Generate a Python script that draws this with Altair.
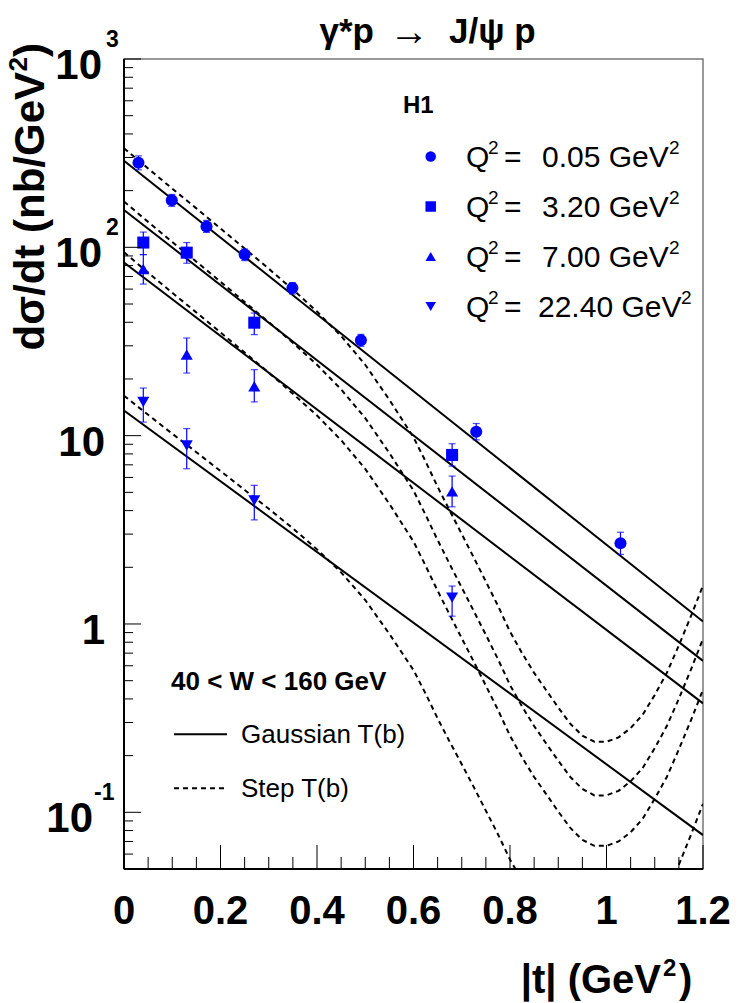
import altair as alt
import pandas as pd

FONT = "Liberation Sans"
BLUE = "#0000ff"
W, H = 579, 810

# ---------------- data ----------------
q2_values = [0.05, 3.20, 7.00, 22.40]
series = ["c", "s", "u", "d"]
shapes = ["circle", "square", "triangle-up", "triangle-down"]

circ_t = [0.030, 0.099, 0.171, 0.250, 0.349, 0.491, 0.730, 1.029]
circ_v = [281, 178, 129, 91.5, 60.8, 32.1, 10.5, 2.68]
circ_hi = [306, 191, 139, 98, 65, 34.5, 11.6, 3.07]
circ_lo = [258, 165, 120, 85, 56.5, 29.8, 9.5, 2.34]

sq_t = [0.04, 0.13, 0.27, 0.68]
sq_v = [106, 93.7, 39.8, 7.9]
sq_hi = [120.5, 106, 44.8, 9.06]
sq_lo = [91.5, 82.3, 34.4, 6.89]

tri_t = [0.04, 0.13, 0.27, 0.68]
tri_v = [76.7, 27.0, 18.3, 5.06]
tri_hi = [91.5, 33.0, 22.4, 6.10]
tri_lo = [63.8, 21.5, 15.1, 4.19]

inv_t = [0.04, 0.13, 0.27, 0.68]
inv_v = [15.1, 8.87, 4.53, 1.38]
inv_hi = [17.9, 10.9, 5.45, 1.59]
inv_lo = [11.8, 6.67, 3.57, 1.10]

# Gaussian T(b): straight lines in log scale (end points)
sol_t = [0.0, 1.2]
sol_1 = [288, 1.03]
sol_2 = [158, 0.637]
sol_3 = [83, 0.379]
sol_4 = [13.6, 0.0757]

# Step T(b) curves
dash_t = [0, 0.05, 0.1, 0.15, 0.2, 0.25, 0.3, 0.35, 0.4, 0.45, 0.5, 0.55, 0.6,
          0.625, 0.65, 0.675, 0.7, 0.725, 0.75, 0.775, 0.8, 0.825, 0.85, 0.875,
          0.9, 0.925, 0.95, 0.975, 1.0, 1.025, 1.05, 1.075, 1.1, 1.125, 1.15,
          1.175, 1.2]
dash_1 = [336, 262, 205, 161, 126, 98.5, 77, 59.7, 45.6, 33.8, 23.8, 15.5, 9.8,
          7.3, 5.35, 4.0, 3.0, 2.25, 1.68, 1.25, 0.91, 0.70, 0.55, 0.445,
          0.36, 0.295, 0.255, 0.237, 0.237, 0.25, 0.28, 0.33, 0.42, 0.55, 0.77,
          1.10, 1.60]
dash_2 = [175, 136.5, 106.8, 83.9, 65.6, 51.3, 40.1, 31.1, 23.8, 17.6, 12.4, 8.08, 5.11,
          3.80, 2.79, 2.08, 1.56, 1.17, 0.875, 0.651, 0.474, 0.365, 0.287, 0.232,
          0.188, 0.154, 0.133, 0.123, 0.123, 0.130, 0.146, 0.172, 0.219, 0.287, 0.401,
          0.573, 0.834]
dash_3 = [94.1, 73.4, 57.4, 45.1, 35.3, 27.6, 21.6, 16.7, 12.8, 9.46, 6.66, 4.34, 2.74,
          2.04, 1.50, 1.12, 0.84, 0.63, 0.47, 0.35, 0.255, 0.196, 0.154, 0.125,
          0.101, 0.0826, 0.0714, 0.0664, 0.0664, 0.070, 0.0784, 0.0924, 0.118, 0.154, 0.216,
          0.308, 0.448]
dash_4 = [16.3, 12.9, 10.24, 8.17, 6.49, 5.15, 4.09, 3.22, 2.49, 1.88, 1.34, 0.886, 0.569,
          0.427, 0.315, 0.237, 0.180, 0.136, 0.102, 0.0765, 0.0561, 0.0435, 0.0344, 0.0281,
          0.0229, 0.0189, 0.0164, 0.0154, 0.0155, 0.0165, 0.0186, 0.0221, 0.0283, 0.0374, 0.0527,
          0.0759, 0.111]

x_major = [0, 0.2, 0.4, 0.6, 0.8, 1.0, 1.2]
x_labels = ["0", "0.2", "0.4", "0.6", "0.8", "1", "1.2"]
x_minor = [0.05, 0.1, 0.15, 0.25, 0.3, 0.35, 0.45, 0.5, 0.55, 0.65, 0.7, 0.75,
           0.85, 0.9, 0.95, 1.05, 1.1, 1.15]
y_major = [0.1, 1, 10, 100, 1000]
y_minor = [0.05, 0.06, 0.07, 0.08, 0.09, 0.2, 0.3, 0.4, 0.5, 0.6, 0.7, 0.8, 0.9,
           2, 3, 4, 5, 6, 7, 8, 9, 20, 30, 40, 50, 60, 70, 80, 90,
           200, 300, 400, 500, 600, 700, 800, 900]

# ---------------- tables ----------------
pts = pd.concat([
    pd.DataFrame({"t": circ_t, "v": circ_v, "hi": circ_hi, "lo": circ_lo, "s": "c"}),
    pd.DataFrame({"t": sq_t, "v": sq_v, "hi": sq_hi, "lo": sq_lo, "s": "s"}),
    pd.DataFrame({"t": tri_t, "v": tri_v, "hi": tri_hi, "lo": tri_lo, "s": "u"}),
    pd.DataFrame({"t": inv_t, "v": inv_v, "hi": inv_hi, "lo": inv_lo, "s": "d"}),
], ignore_index=True)

solid = pd.concat([pd.DataFrame({"t": sol_t, "v": v, "s": s})
                   for v, s in zip([sol_1, sol_2, sol_3, sol_4], series)], ignore_index=True)
dashed = pd.concat([pd.DataFrame({"t": dash_t, "v": v, "s": s})
                    for v, s in zip([dash_1, dash_2, dash_3, dash_4], series)], ignore_index=True)

yscale = alt.Scale(type="log", domain=[0.05, 1000], nice=False)
xscale = alt.Scale(domain=[0, 1.2], nice=False, zero=False)


def X(f="t"):
    return alt.X(f"{f}:Q", scale=xscale, axis=None)


def Y(f="v"):
    return alt.Y(f"{f}:Q", scale=yscale, axis=None)


ONE = alt.Data(values=[{"a": 1}])


def label(s, x, y, size, bold=False, align="left", angle=0):
    return alt.Chart(ONE).mark_text(
        align=align, baseline="alphabetic", fontSize=size, font=FONT,
        fontWeight="bold" if bold else "normal", angle=angle, color="black"
    ).encode(x=alt.value(x), y=alt.value(y), text=alt.value(s))


layers = []

# curves
layers.append(alt.Chart(dashed).mark_line(clip=True, color="black", strokeWidth=2,
                                          strokeDash=[5, 4]).encode(x=X(), y=Y(), detail="s:N"))
layers.append(alt.Chart(solid).mark_line(clip=True, color="black", strokeWidth=2)
              .encode(x=X(), y=Y(), detail="s:N"))

# error bars
layers.append(alt.Chart(pts).mark_rule(color=BLUE, strokeWidth=1.2)
              .encode(x=X(), y=Y("lo"), y2="hi:Q"))
layers.append(alt.Chart(pts).mark_tick(color=BLUE, orient="horizontal", size=7, thickness=1.2)
              .encode(x=X(), y=Y("hi")))
layers.append(alt.Chart(pts).mark_tick(color=BLUE, orient="horizontal", size=7, thickness=1.2)
              .encode(x=X(), y=Y("lo")))

# markers
layers.append(alt.Chart(pts).mark_point(filled=True, opacity=1, size=145, color=BLUE).encode(
    x=X(), y=Y(),
    shape=alt.Shape("s:N", scale=alt.Scale(domain=series, range=shapes), legend=None)))

# frame: left / bottom axis lines
layers.append(alt.Chart(ONE).mark_rule(color="black", strokeWidth=2).encode(
    x=alt.value(0), y=alt.value(0), y2=alt.value(H)))
layers.append(alt.Chart(ONE).mark_rule(color="black", strokeWidth=2).encode(
    x=alt.value(0), x2=alt.value(W), y=alt.value(H)))

# ticks
layers.append(alt.Chart(pd.DataFrame({"t": x_major})).mark_rule(color="black", strokeWidth=1)
              .encode(x=X(), y=alt.value(H), y2=alt.value(H - 24)))
layers.append(alt.Chart(pd.DataFrame({"t": x_minor})).mark_rule(color="black", strokeWidth=1)
              .encode(x=X(), y=alt.value(H), y2=alt.value(H - 12)))
layers.append(alt.Chart(pd.DataFrame({"v": y_major})).mark_rule(color="black", strokeWidth=1)
              .encode(y=Y(), x=alt.value(0), x2=alt.value(17)))
layers.append(alt.Chart(pd.DataFrame({"v": y_minor})).mark_rule(color="black", strokeWidth=1)
              .encode(y=Y(), x=alt.value(0), x2=alt.value(9)))

# x tick labels
layers.append(alt.Chart(pd.DataFrame({"t": x_major, "lab": x_labels})).mark_text(
    font=FONT, fontSize=40, fontWeight="bold", align="center", baseline="alphabetic", color="black"
).encode(x=X(), y=alt.value(H + 55), text="lab:N"))


# y tick labels (base and exponent)
def ylab(val, base, exp, base_x, exp_x):
    df = pd.DataFrame({"v": [val]})
    out = [alt.Chart(df).mark_text(font=FONT, fontSize=42, fontWeight="bold", align="right",
                                   baseline="alphabetic", dy=20, color="black")
           .encode(y=Y(), x=alt.value(base_x), text=alt.value(base))]
    if exp:
        out.append(alt.Chart(df).mark_text(font=FONT, fontSize=23, fontWeight="bold", align="left",
                                           baseline="alphabetic", dy=-12, color="black")
                   .encode(y=Y(), x=alt.value(exp_x), text=alt.value(exp)))
    return out


layers += ylab(1000, "10", "3", -22, -18)
layers += ylab(100, "10", "2", -22, -18)
layers += ylab(10, "10", "", -19, 0)
layers += ylab(1, "1", "", -19, 0)
layers += ylab(0.1, "10", "-1", -31, -30)

# axis titles
layers.append(label(")", -80, -16, 42, bold=True, align="right", angle=270))
layers.append(label("2", -97, -2, 26, bold=True, align="right", angle=270))
layers.append(label("dσ/dt  (nb/GeV", -80, 13, 42, bold=True, align="right", angle=270))

layers.append(label("|t|  (GeV", 537, 934, 40, bold=True, align="right"))
layers.append(label("2", 539, 917, 24, bold=True))
layers.append(label(")", 555, 934, 40, bold=True))

# title
layers.append(label("γ*p", 250, -16, 35, bold=True, align="right"))
layers.append(label("→", 285, -14, 40, align="center"))
layers.append(label("J/ψ p", 325, -16, 35, bold=True))

# upper legend
layers.append(label("H1", 279, 54, 24, bold=True))
rows_y = [108, 158, 208, 258]
for i, (q, shp) in enumerate(zip(q2_values, shapes)):
    by = rows_y[i]
    layers.append(alt.Chart(ONE).mark_point(filled=True, opacity=1, size=110, color=BLUE).encode(
        x=alt.value(306.7), y=alt.value(by - 10.5), shape=alt.value(shp)))
    layers.append(label("Q", 342, by, 30))
    layers.append(label("2", 364, by - 13, 19))
    layers.append(label("=", 380, by, 30))
    vx = 414 if q >= 10 else 418
    layers.append(label(f"{q:.2f} GeV", vx, by, 30))
    layers.append(label("2", 557 if q >= 10 else 545, by - 13, 19))

# lower legend
layers.append(label("40 < W < 160 GeV", 47, 631, 26, bold=True))
layers.append(alt.Chart(ONE).mark_rule(color="black", strokeWidth=2).encode(
    x=alt.value(50), x2=alt.value(103), y=alt.value(675.3)))
layers.append(label("Gaussian T(b)", 117, 684, 26))
layers.append(alt.Chart(ONE).mark_rule(color="black", strokeWidth=2, strokeDash=[5, 4]).encode(
    x=alt.value(50), x2=alt.value(103), y=alt.value(729.3)))
layers.append(label("Step T(b)", 117, 738, 26))

chart = alt.layer(*layers).properties(
    width=W, height=H,
    padding={"left": 124, "top": 59, "right": 35, "bottom": 134},
    autosize=alt.AutoSizeParams(type="none"),
    background="white",
).configure_view(stroke="#777777", strokeWidth=1.5)

chart.save("out.html", embed_options={"renderer": "svg", "actions": False})
